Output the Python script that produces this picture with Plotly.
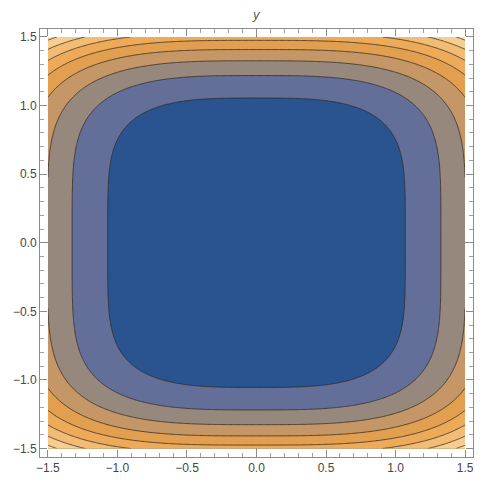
import numpy as np
import plotly.graph_objects as go

# Values read from the picture
# where contour levels 1,2 cross the x axis, and levels 1..5 cross the y axis
x_axis_crossings = [1.07, 1.33]
y_axis_crossings = [1.055, 1.23, 1.34, 1.415, 1.48]
# shape exponents
x_exponent = 3.23
y_exponent = 4.8
contour_levels = [1, 2, 3, 4, 5, 6, 7, 8]
band_colors = [
    "rgb(41,84,144)", "rgb(99,111,153)", "rgb(151,136,126)", "rgb(197,150,102)",
    "rgb(226,159,80)", "rgb(237,171,90)", "rgb(243,188,116)", "rgb(248,206,144)",
    "rgb(252,225,173)",
]
tick_values = [-1.5, -1.0, -0.5, 0.0, 0.5, 1.0, 1.5]
domain = [-1.5, 1.5]

xs = np.linspace(domain[0], domain[1], 361)
ys = np.linspace(domain[0], domain[1], 361)
X, Y = np.meshgrid(xs, ys)
Z = (np.abs(X) / x_axis_crossings[0]) ** x_exponent + (np.abs(Y) / y_axis_crossings[0]) ** y_exponent

n = len(band_colors) - 1
colorscale = [[i / n, c] for i, c in enumerate(band_colors)]

fig = go.Figure(go.Contour(
    x=xs, y=ys, z=Z,
    colorscale=colorscale,
    showscale=False,
    contours=dict(start=contour_levels[0], end=contour_levels[-1],
                  size=contour_levels[1] - contour_levels[0], coloring="fill"),
    line=dict(color="rgba(45,40,35,0.75)", width=1),
    hoverinfo="skip",
))

axis_common = dict(
    tickvals=tick_values,
    tickformat=".1f",
    ticks="inside",
    ticklen=7,
    tickcolor="rgb(140,140,140)",
    showline=True,
    linecolor="rgb(140,140,140)",
    linewidth=1,
    mirror="allticks",
    showgrid=False,
    zeroline=True,
    zerolinecolor="rgb(125,125,125)",
    zerolinewidth=1,
    layer="above traces",
    tickfont=dict(family="Liberation Sans, Arial, sans-serif", size=12, color="rgb(70,70,70)"),
    minor=dict(ticks="inside", ticklen=4, dtick=0.1, tickcolor="rgb(160,160,160)", showgrid=False),
)

fig.update_xaxes(range=[-1.557, 1.557], **axis_common)
fig.update_yaxes(range=[-1.562, 1.558], **axis_common)

fig.add_annotation(text="<i>y</i>", x=0, xref="x", y=1, yref="paper",
                   yanchor="bottom", yshift=5, showarrow=False,
                   font=dict(family="Liberation Sans, Arial, sans-serif", size=13, color="rgb(90,90,90)"))

fig.update_layout(
    width=486, height=487,
    margin=dict(l=40, r=12, t=29, b=26),
    plot_bgcolor="white",
    paper_bgcolor="white",
    showlegend=False,
)

fig.write_html("out.html", config={"displayModeBar": False},
               post_script="document.body.style.margin='0px';")
